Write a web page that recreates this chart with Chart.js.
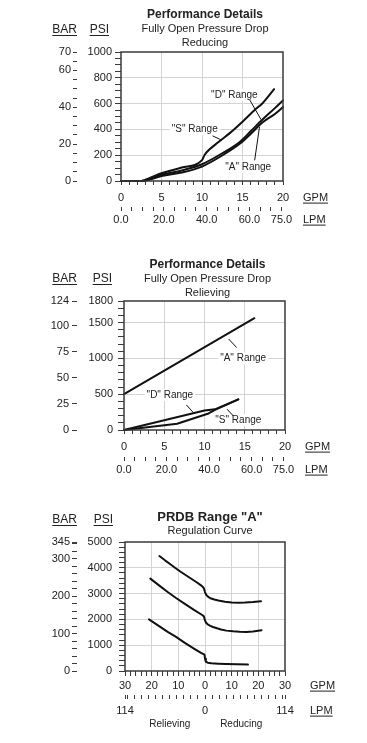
<!DOCTYPE html>
<html>
<head>
<meta charset="utf-8">
<script src="https://cdn.jsdelivr.net/npm/chart.js@4.4.1/dist/chart.umd.min.js"></script>
<style>
  html, body { margin: 0; padding: 0; background: #fff; }
  #wrap { position: relative; width: 367px; height: 743px; overflow: hidden; }
  canvas { position: absolute; left: 0; }
</style>
</head>
<body>
<div id="wrap">
  <canvas id="reducingChart" width="367" height="240" style="top:0px"></canvas>
  <canvas id="relievingChart" width="367" height="240" style="top:250px"></canvas>
  <canvas id="regulationChart" width="367" height="243" style="top:500px"></canvas>
</div>
<script>
const LPM_PER_GPM = 3.785;

// --- Fully open pressure drop, reducing (GPM -> PSI)
const reducingSGpm = [0, 2.5, 3.5, 5, 7.5, 10, 10.3, 10.6, 12, 13.5, 15, 16.5, 17.5, 18.9];
const reducingSPsi = [0, 0, 22, 60, 104, 162, 200, 225, 300, 375, 460, 550, 605, 712];
const reducingDGpm = [0, 2.5, 3.5, 5, 7.5, 10, 12.5, 14.7, 16, 17.5, 19, 20];
const reducingDPsi = [0, 0, 16, 48, 82, 130, 215, 305, 385, 478, 565, 625];
const reducingAGpm = [0, 2.5, 3.5, 5, 7.5, 10, 12.5, 14.7, 16, 17.5, 19, 20];
const reducingAPsi = [0, 0, 10, 38, 66, 112, 198, 290, 365, 455, 520, 573];

const reducingPsiLabels = [0, 200, 400, 600, 800, 1000];
const reducingBarLabels = [0, 20, 40, 60, 70];
const reducingGpmLabels = [0, 5, 10, 15, 20];
const reducingLpmLabels = [0, 20, 40, 60, 75];

// --- Fully open pressure drop, relieving
const relievingAGpm = [0, 16.2];
const relievingAPsi = [500, 1560];
const relievingDGpm = [0, 10, 11.3, 14.2];
const relievingDPsi = [0, 272, 288, 428];
const relievingSGpm = [0, 6.6, 10.5, 11.3, 14.2];
const relievingSPsi = [0, 88, 231, 282, 428];

const relievingPsiLabels = [0, 500, 1000, 1500, 1800];
const relievingBarLabels = [0, 25, 50, 75, 100, 124];
const relievingGpmLabels = [0, 5, 10, 15, 20];
const relievingLpmLabels = [0, 20, 40, 60, 75];

// --- PRDB range "A" regulation curve (negative GPM = relieving)
const regulationHighGpm = [-17.1, -15, -13, -11, -9, -7, -5, -3, -1.5, -0.8, -0.4, 0, 0.4, 1, 2, 3.5, 5, 7.5, 10, 12.5, 15, 18, 21];
const regulationHighPsi = [4455, 4290, 4140, 3985, 3837, 3700, 3565, 3430, 3320, 3256, 3200, 3060, 2960, 2890, 2820, 2770, 2735, 2685, 2655, 2648, 2652, 2672, 2703];
const regulationMidGpm = [-20.5, -17, -14, -11, -7.7, -4, -1.5, -0.8, -0.4, 0, 0.4, 1, 2, 3, 4.5, 6, 8, 10.5, 13, 15.5, 18, 21.2];
const regulationMidPsi = [3580, 3300, 3062, 2840, 2612, 2360, 2200, 2150, 2110, 1960, 1870, 1810, 1750, 1705, 1655, 1610, 1565, 1538, 1520, 1515, 1535, 1580];
const regulationLowGpm = [-21, -17.5, -14, -11, -7.7, -4, -1.5, -0.2, 0, 0.3, 1, 2.4, 5, 8, 12, 16.1];
const regulationLowPsi = [2003, 1760, 1515, 1330, 1100, 860, 705, 636, 480, 360, 320, 300, 285, 272, 258, 248];

const regulationPsiLabels = [0, 1000, 2000, 3000, 4000, 5000];
const regulationBarLabels = [0, 100, 200, 300, 345];
const regulationGpmLabels = [-30, -20, -10, 0, 10, 20, 30];
const regulationLpmLabels = [-113.6, 0, 113.6];

const INK = '#222';
const FRAME = '#3a3a3a';
const LINE = '#111';
const GRID = '#d4d4d4';
const FONT = '"Liberation Sans", Arial, Helvetica, sans-serif';

function steps(min, max, step, extra) {
  const out = [];
  for (let v = min; v <= max + 1e-9; v += step) out.push(Math.round(v * 1000) / 1000);
  (extra || []).forEach((v) => { if (!out.some((o) => Math.abs(o - v) < 1e-6)) out.push(v); });
  return out.sort((a, b) => a - b);
}

function has(list, v) {
  return list.some((l) => Math.abs(l - v) < 1e-6);
}

function valueAxis(o) {
  const vertical = o.position === 'left';
  return {
    type: 'linear',
    position: o.position,
    weight: o.weight || 0,
    min: o.min,
    max: o.max,
    afterBuildTicks: (scale) => {
      scale.ticks = o.ticks.map((v) => ({ value: v }));
    },
    afterFit: (scale) => {
      if (vertical) scale.width = o.size;
      else scale.height = o.size;
    },
    ticks: {
      autoSkip: false,
      maxRotation: 0,
      minRotation: 0,
      padding: o.pad,
      color: INK,
      font: { family: FONT, size: o.fontSize || 11 },
      callback: (v) => (has(o.labels, v) ? o.format(v) : ''),
    },
    grid: {
      drawOnChartArea: !!o.grid,
      color: (c) => (o.grid && c.tick && has(o.grid, c.tick.value) ? GRID : 'rgba(0,0,0,0)'),
      tickColor: FRAME,
      tickLength: o.tickLength,
      lineWidth: 1,
    },
    border: { display: false },
  };
}

function series(xs, ys, smooth) {
  return {
    data: xs.map((x, i) => ({ x, y: ys[i] })),
    borderColor: LINE,
    borderWidth: 2,
    pointRadius: 0,
    fill: false,
    tension: 0,
    cubicInterpolationMode: smooth ? 'monotone' : 'default',
    borderJoinStyle: 'round',
    borderCapStyle: 'round',
    clip: false,
    xAxisID: 'x',
    yAxisID: 'y',
  };
}

function underlined(ctx, text, x, y, align) {
  ctx.textAlign = align;
  ctx.fillText(text, x, y);
  const w = ctx.measureText(text).width;
  const x0 = align === 'right' ? x - w : x;
  ctx.fillRect(x0, y + 5, w, 1);
}

function labelMid(scale) {
  const o = scale.options;
  return scale.top + o.grid.tickLength + o.ticks.padding + o.ticks.font.size * 0.6;
}

function decor(spec) {
  return {
    id: 'decor',
    afterDatasetsDraw(chart) {
      const { ctx, chartArea: a, scales } = chart;
      const x = scales.x;
      const y = scales.y;
      ctx.save();
      ctx.strokeStyle = FRAME;
      ctx.lineWidth = 1.5;
      ctx.strokeRect(a.left, a.top, a.right - a.left, a.bottom - a.top);

      ctx.fillStyle = INK;
      ctx.textBaseline = 'middle';
      ctx.textAlign = 'center';
      const cx = (a.left + a.right) / 2 + spec.titleShift;
      spec.titles.forEach((t) => {
        ctx.font = (t.bold ? 'bold ' : '') + t.size + 'px ' + FONT;
        ctx.fillText(t.text, cx, t.y);
      });

      ctx.font = '12px ' + FONT;
      underlined(ctx, 'BAR', scales.yBar.right, spec.headerY, 'right');
      underlined(ctx, 'PSI', a.left - 12, spec.headerY, 'right');

      ctx.font = '11px ' + FONT;
      underlined(ctx, 'GPM', a.right + spec.unitGap, labelMid(x), 'left');
      underlined(ctx, 'LPM', a.right + spec.unitGap, labelMid(scales.xLpm), 'left');

      ctx.font = '10px ' + FONT;
      ctx.textAlign = 'center';
      (spec.notes || []).forEach((n) => {
        const px = x.getPixelForValue(n.at[0]);
        const py = y.getPixelForValue(n.at[1]);
        const w = ctx.measureText(n.text).width;
        ctx.fillStyle = '#fff';
        ctx.fillRect(px - w / 2 - 2, py - 6, w + 4, 12);
        ctx.fillStyle = INK;
        ctx.fillText(n.text, px, py);
        ctx.beginPath();
        ctx.moveTo(x.getPixelForValue(n.from[0]), y.getPixelForValue(n.from[1]));
        ctx.lineTo(x.getPixelForValue(n.to[0]), y.getPixelForValue(n.to[1]));
        ctx.lineWidth = 1;
        ctx.strokeStyle = LINE;
        ctx.stroke();
      });

      (spec.footer || []).forEach((f) => {
        ctx.fillText(f.text, x.getPixelForValue(f.gpm), a.bottom + spec.footerGap);
      });
      ctx.restore();
    },
  };
}

function baseOptions(padding, scales) {
  return {
    responsive: false,
    animation: false,
    devicePixelRatio: 1,
    layout: { padding },
    plugins: { legend: { display: false }, tooltip: { enabled: false } },
    scales,
  };
}

// chart 1: reducing
new Chart(document.getElementById('reducingChart'), {
  type: 'line',
  data: {
    datasets: [
      series(reducingSGpm, reducingSPsi, true),
      series(reducingDGpm, reducingDPsi, true),
      series(reducingAGpm, reducingAPsi, true),
    ],
  },
  options: baseOptions({ left: 40, top: 52, right: 84, bottom: 11 }, {
    x: valueAxis({ position: 'bottom', min: 0, max: 20, ticks: steps(0, 20, 1), labels: reducingGpmLabels,
      grid: [5, 10, 15], format: (v) => String(v), size: 26, tickLength: 4, pad: 6 }),
    xLpm: valueAxis({ position: 'bottom', weight: 1, min: 0, max: 20 * LPM_PER_GPM, ticks: steps(0, 75, 5),
      labels: reducingLpmLabels, format: (v) => v.toFixed(1), size: 22, tickLength: 4, pad: 2 }),
    y: valueAxis({ position: 'left', min: 0, max: 1000, ticks: steps(0, 1000, 50), labels: reducingPsiLabels,
      grid: [200, 400, 600, 800], format: (v) => String(v), size: 44, tickLength: 6, pad: 3 }),
    yBar: valueAxis({ position: 'left', weight: 1, min: 0, max: 70, ticks: steps(0, 70, 5), labels: reducingBarLabels,
      format: (v) => String(v), size: 37, tickLength: 4, pad: 2 }),
  }),
  plugins: [decor({
    titles: [
      { text: 'Performance Details', y: 15, bold: true, size: 12 },
      { text: 'Fully Open Pressure Drop', y: 29, size: 11 },
      { text: 'Reducing', y: 43, size: 11 },
    ],
    titleShift: 3,
    headerY: 30,
    unitGap: 20,
    notes: [
      { text: '"D" Range', at: [14, 667], from: [15.9, 628], to: [17.3, 475] },
      { text: '"S" Range', at: [9.1, 402], from: [11.3, 350], to: [12.4, 318] },
      { text: '"A" Range', at: [15.7, 109], from: [16.5, 160], to: [17.1, 420] },
    ],
  })],
});

// chart 2: relieving
new Chart(document.getElementById('relievingChart'), {
  type: 'line',
  data: {
    datasets: [
      series(relievingAGpm, relievingAPsi, false),
      series(relievingDGpm, relievingDPsi, false),
      series(relievingSGpm, relievingSPsi, false),
    ],
  },
  options: baseOptions({ left: 40, top: 51, right: 82, bottom: 11 }, {
    x: valueAxis({ position: 'bottom', min: 0, max: 20, ticks: steps(0, 20, 1), labels: relievingGpmLabels,
      grid: [5, 10, 15], format: (v) => String(v), size: 27, tickLength: 4, pad: 6 }),
    xLpm: valueAxis({ position: 'bottom', weight: 1, min: 0, max: 20 * LPM_PER_GPM, ticks: steps(0, 75, 5),
      labels: relievingLpmLabels, format: (v) => v.toFixed(1), size: 22, tickLength: 4, pad: 2 }),
    y: valueAxis({ position: 'left', min: 0, max: 1800, ticks: steps(0, 1800, 100), labels: relievingPsiLabels,
      grid: [500, 1000, 1500], format: (v) => String(v), size: 47, tickLength: 6, pad: 5 }),
    yBar: valueAxis({ position: 'left', weight: 1, min: 0, max: 124, ticks: relievingBarLabels, labels: relievingBarLabels,
      format: (v) => String(v), size: 37, tickLength: 5, pad: 3 }),
  }),
  plugins: [decor({
    titles: [
      { text: 'Performance Details', y: 15, bold: true, size: 12 },
      { text: 'Fully Open Pressure Drop', y: 29, size: 11 },
      { text: 'Relieving', y: 43, size: 11 },
    ],
    titleShift: 3,
    headerY: 29,
    unitGap: 20,
    notes: [
      { text: '"A" Range', at: [14.8, 1000], from: [13.0, 1270], to: [14.0, 1150] },
      { text: '"D" Range', at: [5.7, 490], from: [7.75, 350], to: [8.6, 245] },
      { text: '"S" Range', at: [14.2, 139], from: [13.6, 194], to: [12.8, 290] },
    ],
  })],
});

// chart 3: regulation curve
new Chart(document.getElementById('regulationChart'), {
  type: 'line',
  data: {
    datasets: [
      series(regulationHighGpm, regulationHighPsi, false),
      series(regulationMidGpm, regulationMidPsi, false),
      series(regulationLowGpm, regulationLowPsi, false),
    ],
  },
  options: baseOptions({ left: 40, top: 42, right: 82, bottom: 26 }, {
    x: valueAxis({ position: 'bottom', min: -30, max: 30, ticks: steps(-30, 30, 2), labels: regulationGpmLabels,
      grid: [-20, -10, 0, 10, 20], format: (v) => String(Math.abs(v)), size: 24, tickLength: 5, pad: 3 }),
    xLpm: valueAxis({ position: 'bottom', weight: 1, min: -113.6, max: 113.6,
      ticks: steps(-110, 110, 10, regulationLpmLabels), labels: regulationLpmLabels,
      format: (v) => Math.abs(v).toFixed(0), size: 22, tickLength: 4, pad: 5 }),
    y: valueAxis({ position: 'left', min: 0, max: 5000, ticks: steps(0, 5000, 200), labels: regulationPsiLabels,
      grid: [1000, 2000, 3000, 4000], format: (v) => String(v), size: 48, tickLength: 6, pad: 7 }),
    yBar: valueAxis({ position: 'left', weight: 1, min: 0, max: 345, ticks: steps(0, 340, 20, [345]),
      labels: regulationBarLabels, format: (v) => String(v), size: 37, tickLength: 5, pad: 2 }),
  }),
  plugins: [decor({
    titles: [
      { text: 'PRDB Range "A"', y: 17, bold: true, size: 13 },
      { text: 'Regulation Curve', y: 31, size: 11 },
    ],
    titleShift: 5,
    headerY: 20,
    unitGap: 25,
    footer: [
      { text: 'Relieving', gpm: -13.2 },
      { text: 'Reducing', gpm: 13.6 },
    ],
    footerGap: 53,
  })],
});
</script>
</body>
</html>
